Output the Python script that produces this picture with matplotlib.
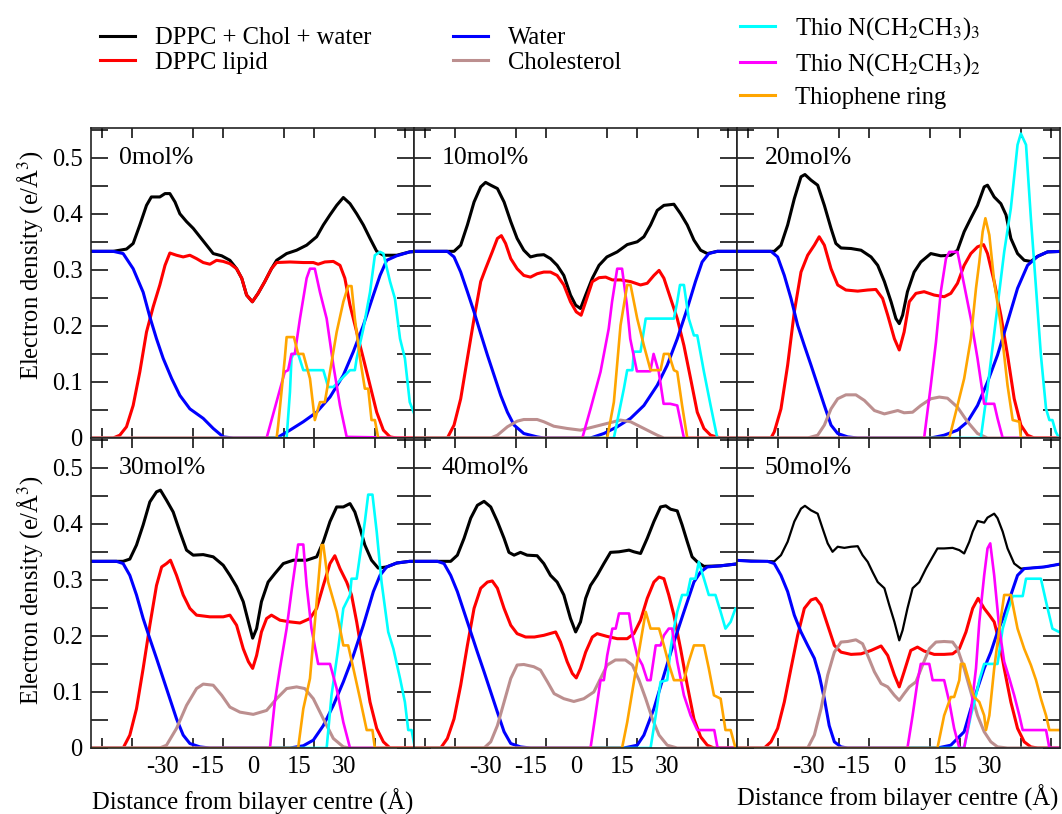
import matplotlib
matplotlib.use('Agg')
import matplotlib.pyplot as plt
from matplotlib.ticker import FixedLocator, FuncFormatter
from matplotlib.lines import Line2D

plt.rcParams['font.family'] = 'Liberation Serif'
plt.rcParams['mathtext.fontset'] = 'stix'
plt.rcParams['axes.unicode_minus'] = False

FS = 17.7

# electron density profiles, (z in Angstrom, density in e/A^3)
# 0 mol%
p0_total = [(-54,0.333),(-46.2,0.333),(-41.8,0.337),(-39.6,0.347),(-37.4,0.38),(-35.2,0.415),(-33.6,0.43),(-30.8,0.43),(-29.1,0.436),(-27.5,0.436),(-25.8,0.421),(-24.2,0.40),(-22.0,0.386),(-19.8,0.374),(-17.6,0.359),(-15.4,0.344),(-13.2,0.329),(-10.4,0.325),(-7.7,0.317),(-5.5,0.302),(-3.8,0.285),(-2.2,0.255),(-0.3,0.243),(1.6,0.258),(3.8,0.279),(6.0,0.302),(7.7,0.317),(11.0,0.329),(14.3,0.335),(17.6,0.344),(20.9,0.359),(23.1,0.38),(25.3,0.398),(27.5,0.415),(29.7,0.429),(31.9,0.418),(34.1,0.40),(36.3,0.38),(38.5,0.356),(40.7,0.333),(42.9,0.326),(47.3,0.326),(51.6,0.332),(54,0.333)]
p0_lipid = [(-54,0),(-46.2,0),(-44.0,0.005),(-41.8,0.02),(-39.6,0.058),(-37.4,0.118),(-35.2,0.189),(-33.0,0.234),(-30.8,0.273),(-29.1,0.308),(-27.5,0.33),(-25.3,0.326),(-23.1,0.323),(-20.9,0.326),(-18.7,0.32),(-16.5,0.313),(-14.3,0.31),(-12.1,0.317),(-9.9,0.315),(-7.7,0.311),(-5.5,0.302),(-3.8,0.285),(-2.2,0.255),(-0.3,0.243),(1.6,0.258),(3.8,0.279),(6.0,0.302),(7.7,0.313),(12.1,0.314),(16.5,0.313),(19.8,0.313),(21.4,0.31),(23.6,0.314),(26.4,0.315),(28.6,0.308),(30.2,0.285),(31.9,0.237),(34.1,0.189),(36.3,0.142),(38.5,0.094),(40.7,0.046),(42.9,0.014),(45.1,0.002),(47.3,0),(54,0)]
p0_water = [(-54,0.333),(-46.2,0.333),(-42.9,0.329),(-39.6,0.302),(-36.3,0.26),(-34.1,0.216),(-31.9,0.177),(-29.7,0.142),(-26.9,0.106),(-24.2,0.076),(-20.9,0.052),(-16.5,0.035),(-13.2,0.017),(-9.9,0.002),(-6.6,0),(7.7,0),(12.1,0.014),(16.5,0.029),(20.9,0.046),(25.3,0.073),(29.7,0.112),(33.0,0.154),(36.3,0.201),(39.6,0.255),(41.8,0.29),(44.0,0.317),(47.3,0.325),(51.6,0.332),(54,0.333)]
p0_chol = [(-54,0),(54,0)]
p0_n3 = [(-54,0),(11.0,0),(12.1,0.082),(12.6,0.142),(13.2,0.15),(14.8,0.15),(16.5,0.121),(23.1,0.121),(24.7,0.091),(26.4,0.091),(31.9,0.121),(33.5,0.121),(34.1,0.142),(36.3,0.195),(38.5,0.26),(40.1,0.326),(41.8,0.332),(42.9,0.329),(45.1,0.279),(46.7,0.249),(48.4,0.177),(50.0,0.142),(51.6,0.064),(53.3,0.04),(54,0.03)]
p0_n2 = [(-54,0),(4.4,0),(10.4,0.118),(11.5,0.121),(12.6,0.15),(13.7,0.15),(15.4,0.213),(17.6,0.285),(18.7,0.302),(20.3,0.302),(22.0,0.26),(24.2,0.213),(26.4,0.13),(28.6,0.058),(30.8,0.002),(54,0)]
p0_ring = [(-54,0),(7.7,0),(8.2,0.022),(9.3,0.082),(10.4,0.142),(11.0,0.18),(13.4,0.18),(14.8,0.15),(16.5,0.15),(18.7,0.106),(20.3,0.032),(22.0,0.064),(23.6,0.064),(25.3,0.118),(27.5,0.189),(29.7,0.243),(31.3,0.271),(32.4,0.271),(33.5,0.213),(35.2,0.142),(36.8,0.088),(37.9,0.088),(39.0,0.032),(40.1,0.032),(41.2,0),(54,0)]

# 10 mol%
p1_total = [(-54,0.333),(-40.3,0.333),(-38.1,0.344),(-35.9,0.38),(-33.7,0.421),(-31.5,0.448),(-29.9,0.456),(-28.2,0.451),(-26.0,0.445),(-23.8,0.421),(-21.6,0.386),(-19.5,0.356),(-17.3,0.335),(-15.1,0.323),(-12.9,0.326),(-10.7,0.327),(-8.5,0.32),(-6.3,0.308),(-4.1,0.29),(-1.9,0.255),(-0.2,0.237),(1.4,0.231),(3.1,0.255),(5.3,0.285),(7.5,0.308),(10.1,0.323),(13.5,0.332),(16.8,0.345),(20.1,0.35),(22.3,0.359),(24.5,0.38),(26.7,0.406),(28.9,0.415),(32.2,0.417),(34.4,0.40),(36.6,0.38),(38.8,0.353),(41.0,0.335),(43.2,0.329),(46.5,0.333),(54,0.333)]
p1_lipid = [(-54,0),(-42.5,0),(-40.3,0.023),(-38.1,0.07),(-35.9,0.142),(-33.7,0.213),(-31.5,0.279),(-29.9,0.302),(-27.7,0.332),(-26.0,0.356),(-24.7,0.361),(-23.3,0.347),(-21.6,0.32),(-19.5,0.302),(-17.3,0.29),(-15.1,0.287),(-12.9,0.293),(-10.7,0.296),(-8.5,0.296),(-6.3,0.29),(-4.1,0.273),(-1.9,0.243),(0.0,0.225),(1.6,0.219),(3.1,0.243),(5.3,0.279),(7.5,0.286),(9.7,0.287),(11.9,0.282),(14.6,0.282),(17.9,0.279),(21.2,0.273),(23.4,0.276),(25.6,0.29),(27.3,0.299),(28.9,0.285),(31.1,0.249),(33.3,0.213),(35.5,0.165),(37.7,0.106),(39.9,0.046),(42.1,0.017),(44.3,0.005),(47.6,0),(54,0)]
p1_water = [(-54,0.333),(-42.5,0.333),(-40.3,0.323),(-38.1,0.296),(-35.9,0.261),(-33.7,0.225),(-31.5,0.186),(-29.3,0.148),(-27.1,0.112),(-24.9,0.076),(-22.7,0.046),(-20.5,0.023),(-17.3,0.008),(-12.9,0.002),(-10.7,0),(4.7,0),(9.1,0.008),(13.5,0.02),(17.9,0.035),(22.3,0.058),(26.7,0.094),(30.0,0.13),(33.3,0.177),(36.6,0.231),(39.3,0.279),(41.5,0.314),(43.7,0.329),(46.5,0.333),(54,0.333)]
p1_chol = [(-54,0),(-28.2,0),(-26.0,0.005),(-22.7,0.02),(-19.5,0.03),(-17.3,0.033),(-12.9,0.033),(-10.7,0.029),(-7.4,0.021),(-3.0,0.017),(1.4,0.014),(5.8,0.02),(10.2,0.026),(14.6,0.032),(17.9,0.029),(22.3,0.017),(26.7,0.005),(28.9,0),(54,0)]
p1_n3 = [(-54,0),(12.4,0),(15.7,0.088),(16.8,0.121),(18.5,0.121),(19.0,0.154),(21.2,0.154),(22.9,0.213),(32.2,0.213),(33.3,0.243),(34.2,0.273),(35.5,0.273),(37.1,0.213),(38.8,0.183),(39.9,0.183),(42.1,0.118),(44.3,0.058),(46.5,0),(54,0)]
p1_n2 = [(-54,0),(2.0,0),(4.7,0.052),(8.0,0.118),(10.7,0.195),(11.8,0.243),(13.5,0.302),(15.1,0.302),(16.7,0.237),(17.8,0.177),(20.0,0.119),(24.4,0.119),(25.5,0.15),(27.2,0.118),(28.8,0.061),(31.0,0.061),(33.3,0.058),(35.5,0),(54,0)]
p1_ring = [(-54,0),(10.2,0),(12.4,0.064),(14.6,0.201),(16.8,0.273),(17.9,0.273),(20.1,0.213),(22.3,0.165),(24.5,0.121),(27.8,0.121),(28.9,0.15),(30.5,0.15),(32.2,0.121),(33.3,0.118),(34.9,0.058),(36.6,0),(54,0)]

# 20 mol%
p2_total = [(-54,0.333),(-41.2,0.333),(-39.0,0.344),(-36.8,0.38),(-34.6,0.427),(-32.4,0.466),(-31.1,0.47),(-29.1,0.46),(-26.9,0.451),(-24.7,0.415),(-22.5,0.374),(-20.9,0.347),(-19.2,0.339),(-15.9,0.338),(-12.6,0.335),(-9.3,0.323),(-7.1,0.308),(-4.9,0.279),(-2.7,0.243),(-1.1,0.213),(0.0,0.204),(1.1,0.219),(2.7,0.261),(4.9,0.296),(7.1,0.314),(10.4,0.329),(13.7,0.325),(17.0,0.326),(19.2,0.335),(21.4,0.368),(23.6,0.392),(25.8,0.415),(28.0,0.448),(29.1,0.451),(31.3,0.43),(33.5,0.418),(35.2,0.398),(36.8,0.356),(39.0,0.329),(41.2,0.317),(43.4,0.315),(45.6,0.324),(48.9,0.332),(54,0.333)]
p2_lipid = [(-54,0),(-42.3,0),(-41.2,0.011),(-39.0,0.052),(-36.8,0.13),(-34.6,0.225),(-32.4,0.296),(-30.2,0.326),(-28.0,0.344),(-26.4,0.359),(-24.7,0.344),(-22.5,0.302),(-20.3,0.273),(-17.6,0.264),(-13.7,0.262),(-10.4,0.264),(-7.7,0.265),(-5.5,0.249),(-3.8,0.219),(-1.6,0.177),(0.0,0.157),(1.6,0.189),(3.3,0.243),(5.5,0.258),(8.2,0.261),(11.5,0.255),(14.8,0.252),(17.0,0.258),(19.2,0.276),(21.4,0.308),(23.6,0.329),(25.8,0.341),(27.8,0.345),(29.1,0.329),(31.3,0.279),(33.5,0.219),(35.7,0.148),(37.9,0.07),(40.1,0.023),(42.3,0.005),(44.5,0),(54,0)]
p2_water = [(-54,0.333),(-42.3,0.333),(-40.1,0.323),(-37.9,0.29),(-35.7,0.249),(-33.5,0.201),(-31.3,0.165),(-29.1,0.13),(-26.9,0.094),(-24.7,0.058),(-22.5,0.023),(-20.3,0.008),(-17.0,0.002),(-13.7,0),(10.4,0),(14.8,0.005),(19.2,0.014),(22.5,0.029),(25.8,0.058),(29.1,0.1),(32.4,0.148),(35.7,0.207),(39.0,0.267),(42.3,0.308),(45.6,0.324),(48.9,0.332),(54,0.333)]
p2_chol = [(-54,0),(-30.2,0),(-26.9,0.005),(-24.7,0.023),(-22.5,0.052),(-20.3,0.07),(-17.6,0.077),(-14.3,0.077),(-11.5,0.067),(-8.2,0.049),(-4.9,0.043),(-2.7,0.046),(-0.5,0.049),(1.6,0.045),(4.4,0.046),(7.1,0.058),(10.4,0.07),(13.2,0.073),(15.9,0.071),(19.2,0.055),(22.5,0.029),(25.8,0.008),(29.1,0),(54,0)]
p2_n3 = [(-54,0),(26.9,0),(29.1,0.088),(31.9,0.213),(34.6,0.332),(36.8,0.41),(39.0,0.523),(40.1,0.543),(41.8,0.523),(43.4,0.392),(45.1,0.267),(46.7,0.148),(48.4,0.052),(49.5,0.032),(50.5,0.032),(51.6,0.011),(52.7,0),(54,0)]
p2_n2 = [(-54,0),(8.2,0),(10.4,0.094),(12.1,0.171),(13.7,0.261),(15.4,0.32),(16.5,0.332),(19.2,0.332),(21.4,0.273),(23.6,0.213),(25.8,0.142),(28.0,0.061),(31.3,0.061),(32.4,0.035),(34.1,0),(54,0)]
p2_ring = [(-54,0),(16.5,0),(19.2,0.058),(21.4,0.106),(23.6,0.177),(25.3,0.267),(26.4,0.314),(27.5,0.368),(28.4,0.392),(29.7,0.362),(31.3,0.279),(33.5,0.201),(35.7,0.094),(37.4,0.032),(39.6,0.029),(40.1,0),(54,0)]

# 30 mol%
p3_total = [(-54,0.333),(-42.9,0.333),(-40.7,0.337),(-38.5,0.362),(-36.3,0.398),(-34.1,0.439),(-31.9,0.457),(-30.6,0.46),(-28.6,0.442),(-26.4,0.421),(-24.2,0.386),(-22.0,0.353),(-19.8,0.344),(-16.5,0.345),(-13.2,0.341),(-9.9,0.326),(-7.7,0.308),(-5.5,0.288),(-3.3,0.261),(-1.6,0.225),(-0.2,0.196),(1.1,0.213),(2.7,0.261),(4.9,0.296),(7.1,0.311),(9.9,0.329),(13.2,0.335),(17.6,0.335),(20.9,0.341),(23.1,0.368),(25.3,0.404),(27.5,0.43),(29.7,0.43),(31.9,0.436),(33.5,0.421),(35.2,0.392),(36.8,0.362),(39.0,0.335),(41.2,0.321),(44.0,0.323),(47.3,0.33),(51.6,0.333),(54,0.333)]
p3_lipid = [(-54,0),(-42.9,0),(-40.7,0.023),(-38.5,0.07),(-36.3,0.142),(-34.1,0.219),(-31.9,0.29),(-30.2,0.323),(-28.6,0.329),(-27.3,0.335),(-25.3,0.308),(-23.1,0.273),(-20.9,0.249),(-18.7,0.237),(-14.3,0.234),(-9.9,0.234),(-7.7,0.237),(-5.5,0.219),(-3.3,0.177),(-1.6,0.154),(-0.2,0.142),(1.1,0.165),(2.7,0.207),(4.4,0.231),(6.0,0.237),(8.8,0.228),(12.1,0.225),(15.4,0.223),(18.7,0.231),(20.9,0.249),(23.1,0.29),(25.3,0.329),(26.9,0.343),(28.6,0.32),(30.8,0.296),(32.4,0.273),(34.1,0.225),(36.3,0.154),(38.5,0.082),(40.7,0.035),(42.9,0.011),(45.1,0),(54,0)]
p3_water = [(-54,0.333),(-45.1,0.333),(-42.9,0.329),(-40.7,0.308),(-38.5,0.273),(-36.3,0.231),(-34.1,0.195),(-31.9,0.16),(-29.7,0.124),(-27.5,0.088),(-25.3,0.052),(-23.1,0.023),(-20.9,0.008),(-17.6,0.002),(-14.3,0),(12.1,0),(16.5,0.004),(19.8,0.014),(23.1,0.04),(26.4,0.076),(29.7,0.118),(33.0,0.165),(36.3,0.219),(39.6,0.279),(41.8,0.308),(44.0,0.323),(47.3,0.33),(51.6,0.333),(54,0.333)]
p3_chol = [(-54,0),(-30.8,0),(-28.6,0.005),(-25.3,0.035),(-22.0,0.076),(-18.7,0.106),(-16.5,0.114),(-13.2,0.112),(-10.4,0.094),(-7.7,0.073),(-4.4,0.064),(0.0,0.06),(4.4,0.067),(7.7,0.088),(11.0,0.106),(14.3,0.109),(17.0,0.106),(19.8,0.088),(23.1,0.052),(26.4,0.017),(29.7,0.002),(31.9,0),(54,0)]
p3_n3 = [(-54,0),(24.2,0),(25.8,0.094),(28.0,0.177),(29.7,0.249),(31.9,0.273),(32.4,0.302),(34.1,0.302),(35.2,0.344),(36.8,0.404),(37.9,0.452),(39.3,0.452),(40.7,0.386),(42.3,0.296),(44.5,0.207),(46.2,0.177),(48.4,0.124),(50.0,0.082),(51.1,0.032),(52.2,0.032),(53.3,0),(54,0)]
p3_n2 = [(-54,0),(5.5,0),(7.1,0.082),(8.8,0.142),(11.0,0.213),(12.6,0.279),(14.3,0.344),(14.8,0.363),(16.5,0.363),(17.6,0.29),(19.2,0.213),(21.4,0.15),(25.3,0.15),(27.5,0.106),(29.7,0.046),(31.9,0),(54,0)]
p3_ring = [(-54,0),(14.8,0),(16.5,0.07),(18.7,0.124),(20.9,0.261),(22.5,0.362),(23.1,0.362),(24.7,0.296),(27.5,0.243),(29.7,0.183),(31.3,0.183),(33.0,0.142),(35.2,0.088),(37.4,0.032),(39.3,0.032),(40.1,0),(54,0)]

# 40 mol%
p4_total = [(-54,0.333),(-41.4,0.333),(-39.2,0.344),(-37.0,0.374),(-34.8,0.41),(-32.6,0.433),(-30.4,0.44),(-28.2,0.43),(-26.0,0.404),(-23.8,0.374),(-22.2,0.349),(-20.5,0.344),(-18.4,0.349),(-16.2,0.344),(-12.9,0.343),(-10.7,0.329),(-8.5,0.308),(-6.3,0.296),(-4.1,0.273),(-1.9,0.231),(-0.2,0.207),(1.4,0.225),(3.1,0.267),(4.7,0.29),(6.9,0.308),(9.1,0.329),(11.3,0.349),(14.1,0.35),(17.4,0.353),(19.0,0.35),(21.2,0.347),(23.4,0.374),(25.6,0.404),(27.8,0.43),(29.5,0.432),(31.1,0.426),(33.3,0.423),(34.9,0.398),(36.6,0.368),(38.2,0.341),(39.9,0.332),(42.1,0.324),(47.6,0.325),(54,0.329)]
p4_lipid = [(-54,0),(-44.7,0),(-42.5,0.017),(-40.3,0.052),(-38.1,0.112),(-35.9,0.183),(-33.7,0.249),(-31.5,0.285),(-29.3,0.296),(-27.7,0.298),(-26.0,0.285),(-23.8,0.249),(-21.6,0.219),(-19.5,0.204),(-16.7,0.198),(-13.8,0.198),(-10.7,0.201),(-6.8,0.207),(-5.2,0.189),(-3.0,0.154),(-1.3,0.133),(0.0,0.125),(1.4,0.142),(3.1,0.171),(5.3,0.198),(6.9,0.204),(10.2,0.199),(13.5,0.195),(16.8,0.195),(19.0,0.204),(21.2,0.228),(23.4,0.267),(25.6,0.296),(27.3,0.305),(28.9,0.302),(30.5,0.273),(32.2,0.237),(34.4,0.177),(36.6,0.112),(38.8,0.052),(41.0,0.02),(43.2,0.005),(45.4,0),(54,0)]
p4_water = [(-54,0.333),(-45.8,0.333),(-43.6,0.329),(-41.4,0.308),(-39.2,0.279),(-37.0,0.243),(-34.8,0.207),(-32.6,0.171),(-30.4,0.136),(-28.2,0.1),(-26.0,0.064),(-23.8,0.029),(-21.6,0.008),(-18.4,0.002),(-15.1,0),(15.7,0),(20.1,0.005),(22.3,0.023),(25.6,0.07),(28.9,0.13),(32.2,0.189),(35.5,0.243),(38.8,0.296),(41.0,0.314),(43.2,0.323),(47.6,0.325),(54,0.329)]
p4_chol = [(-54,0),(-30.4,0),(-28.2,0.011),(-26.0,0.04),(-23.8,0.082),(-21.6,0.124),(-19.5,0.148),(-17.3,0.149),(-14.0,0.145),(-11.8,0.139),(-9.5,0.118),(-7.3,0.097),(-4.1,0.088),(-0.8,0.083),(2.5,0.088),(5.8,0.1),(8.0,0.124),(10.2,0.148),(12.9,0.157),(16.2,0.157),(18.5,0.148),(20.7,0.121),(22.9,0.088),(25.1,0.052),(27.3,0.023),(30.0,0.005),(33.3,0),(54,0)]
p4_n3 = [(-54,0),(24.5,0),(26.2,0.058),(27.8,0.118),(30.0,0.121),(31.1,0.177),(32.2,0.213),(33.3,0.243),(34.9,0.273),(36.6,0.273),(37.7,0.302),(39.3,0.302),(40.4,0.332),(42.1,0.302),(43.7,0.273),(45.9,0.273),(47.6,0.243),(49.2,0.213),(50.9,0.225),(52.5,0.249),(54,0.25)]
p4_n2 = [(-54,0),(4.7,0),(6.3,0.058),(8.0,0.121),(9.1,0.121),(10.2,0.165),(11.9,0.213),(13.0,0.213),(14.1,0.24),(17.4,0.24),(18.5,0.201),(20.1,0.165),(21.8,0.148),(23.4,0.121),(24.5,0.121),(26.2,0.183),(27.8,0.183),(28.9,0.201),(30.5,0.213),(31.6,0.213),(33.3,0.154),(35.5,0.094),(37.7,0.058),(39.9,0.032),(45.5,0.032),(46.6,0),(54,0)]
p4_ring = [(-54,0),(15.1,0),(16.8,0.046),(19.0,0.118),(21.2,0.189),(22.9,0.243),(24.5,0.213),(27.3,0.213),(28.9,0.183),(30.5,0.15),(32.2,0.121),(35.5,0.121),(37.1,0.154),(38.8,0.183),(42.1,0.183),(43.7,0.142),(45.4,0.094),(47.6,0.088),(49.2,0.032),(50.9,0.032),(52.5,0),(54,0)]

# 50 mol%
p5_total = [(-54,0.335),(-41.2,0.333),(-39.0,0.344),(-36.8,0.368),(-34.6,0.404),(-32.4,0.427),(-31.1,0.432),(-29.1,0.424),(-26.9,0.418),(-25.3,0.392),(-23.6,0.365),(-22.0,0.35),(-20.3,0.359),(-18.1,0.357),(-15.9,0.359),(-13.7,0.36),(-12.1,0.344),(-10.4,0.332),(-8.8,0.314),(-7.1,0.296),(-4.9,0.285),(-3.3,0.255),(-1.6,0.225),(0.0,0.192),(1.1,0.21),(2.7,0.249),(4.4,0.285),(6.6,0.296),(8.8,0.32),(11.0,0.341),(12.6,0.356),(14.8,0.356),(17.6,0.357),(19.8,0.353),(21.4,0.347),(23.1,0.368),(24.2,0.386),(25.8,0.405),(28.0,0.402),(29.1,0.411),(31.3,0.418),(32.4,0.41),(34.1,0.386),(35.7,0.356),(37.9,0.329),(40.1,0.32),(43.4,0.321),(47.8,0.323),(54,0.329)]
p5_lipid = [(-54,0),(-44.5,0),(-42.3,0.011),(-40.1,0.035),(-37.9,0.082),(-35.7,0.142),(-33.5,0.201),(-31.3,0.249),(-29.1,0.264),(-27.5,0.267),(-25.8,0.255),(-23.6,0.219),(-21.4,0.183),(-19.2,0.171),(-15.9,0.167),(-12.6,0.168),(-9.3,0.174),(-6.0,0.182),(-3.8,0.165),(-1.6,0.13),(0.0,0.109),(1.6,0.136),(3.8,0.174),(6.0,0.18),(8.2,0.173),(11.5,0.167),(14.8,0.167),(17.6,0.168),(19.8,0.177),(22.0,0.207),(24.2,0.249),(26.0,0.267),(28.0,0.249),(29.7,0.237),(31.3,0.225),(33.0,0.189),(34.6,0.142),(36.8,0.082),(39.0,0.035),(41.2,0.011),(43.4,0.002),(45.6,0),(54,0)]
p5_water = [(-54,0.335),(-48.9,0.333),(-43.4,0.333),(-41.2,0.329),(-39.0,0.308),(-36.8,0.279),(-34.6,0.237),(-32.4,0.207),(-30.2,0.183),(-28.0,0.16),(-26.4,0.13),(-24.7,0.088),(-23.1,0.04),(-21.4,0.011),(-19.2,0.002),(-17.0,0),(12.6,0),(17.0,0.005),(21.4,0.029),(23.6,0.07),(25.8,0.106),(28.0,0.142),(30.2,0.171),(32.4,0.207),(34.6,0.237),(36.8,0.273),(39.0,0.308),(41.2,0.32),(43.4,0.321),(47.8,0.323),(54,0.329)]
p5_chol = [(-54,0),(-30.2,0),(-28.0,0.023),(-25.8,0.07),(-23.6,0.13),(-21.4,0.171),(-19.2,0.189),(-17.0,0.19),(-14.3,0.193),(-12.1,0.186),(-10.4,0.165),(-8.2,0.136),(-6.0,0.115),(-3.8,0.109),(-1.6,0.094),(0.0,0.085),(1.6,0.097),(3.3,0.109),(5.5,0.118),(7.7,0.148),(9.9,0.177),(12.1,0.189),(14.8,0.19),(17.6,0.189),(19.2,0.177),(21.4,0.142),(23.6,0.1),(25.8,0.058),(28.0,0.029),(30.2,0.011),(32.4,0.002),(35.7,0),(54,0)]
p5_n3 = [(-54,0),(21.4,0),(23.6,0.058),(25.3,0.094),(26.4,0.121),(28.0,0.15),(32.4,0.15),(34.1,0.213),(35.7,0.243),(37.4,0.271),(40.7,0.271),(41.8,0.302),(46.7,0.302),(48.4,0.261),(50.5,0.213),(52.7,0.207),(54,0.205)]
p5_n2 = [(-54,0),(2.7,0),(4.4,0.058),(6.0,0.118),(7.1,0.15),(9.9,0.15),(11.0,0.121),(14.8,0.121),(16.5,0.082),(18.1,0.035),(19.8,0),(21.4,0),(22.5,0.032),(23.6,0.064),(25.3,0.142),(26.4,0.225),(28.0,0.308),(29.1,0.356),(30.0,0.365),(31.3,0.308),(33.0,0.213),(34.6,0.154),(36.3,0.124),(37.9,0.094),(39.6,0.058),(40.7,0.032),(48.4,0.032),(49.5,0),(54,0)]
p5_ring = [(-54,0),(12.6,0),(14.8,0.058),(17.0,0.091),(18.1,0.091),(19.8,0.121),(20.3,0.15),(21.4,0.15),(23.1,0.118),(24.7,0.091),(26.4,0.082),(28.0,0.058),(28.6,0.032),(29.7,0.058),(31.3,0.142),(33.0,0.213),(34.6,0.273),(36.8,0.273),(39.0,0.213),(41.2,0.177),(43.4,0.148),(45.1,0.121),(46.7,0.088),(48.4,0.058),(49.5,0.032),(54,0.032)]

panel_names = ['0mol%', '10mol%', '20mol%', '30mol%', '40mol%', '50mol%']
series_labels = ['DPPC + Chol + water', 'DPPC lipid', 'Water', 'Cholesterol',
                 r'Thio N(CH$_2$CH$_3$)$_3$', r'Thio N(CH$_2$CH$_3$)$_2$', 'Thiophene ring']
series_colors = ['black', 'red', 'blue', '#bc8f8f', 'cyan', 'magenta', 'orange']

panels = [
    [p0_total, p0_lipid, p0_water, p0_chol, p0_n3, p0_n2, p0_ring],
    [p1_total, p1_lipid, p1_water, p1_chol, p1_n3, p1_n2, p1_ring],
    [p2_total, p2_lipid, p2_water, p2_chol, p2_n3, p2_n2, p2_ring],
    [p3_total, p3_lipid, p3_water, p3_chol, p3_n3, p3_n2, p3_ring],
    [p4_total, p4_lipid, p4_water, p4_chol, p4_n3, p4_n2, p4_ring],
    [p5_total, p5_lipid, p5_water, p5_chol, p5_n3, p5_n2, p5_ring],
]

fig = plt.figure(figsize=(10.62, 8.14), dpi=100)
gs = fig.add_gridspec(2, 3, left=91/1062, right=1060/1062, top=1-128/814,
                      bottom=1-748/814, wspace=0, hspace=0)

ylab = lambda v, pos: '0' if abs(v) < 1e-9 else ('%.1f' % v if abs(v*10 - round(v*10)) < 1e-6 else '')

for i, curves in enumerate(panels):
    ax = fig.add_subplot(gs[i // 3, i % 3])
    for k, pts in enumerate(curves):
        xs = [p[0] for p in pts]
        ys = [p[1] for p in pts]
        lw = 2.2 if k < 4 else 1.9
        if k == 0 and i == 5:
            lw = 1.6
        ax.plot(xs, ys, color=series_colors[k], lw=lw, solid_joinstyle='round')
    ax.set_xlim(-53.5, 53)
    ax.set_ylim(0, 0.553)
    ax.text(-44.4, 0.5, panel_names[i], fontsize=18.5, va='center')

    ax.xaxis.set_major_locator(FixedLocator([-30, -15, 0, 15, 30]))
    ax.xaxis.set_minor_locator(FixedLocator(list(range(-50, 51, 10))))
    ax.yaxis.set_major_locator(FixedLocator([0.05*j for j in range(12)]))
    ax.yaxis.set_major_formatter(FuncFormatter(ylab))
    ax.tick_params(axis='x', which='major', length=0, pad=6, labelsize=FS)
    ax.tick_params(axis='x', which='minor', direction='in', length=7.5, width=1.1,
                   top=True, bottom=True)
    ax.tick_params(axis='y', which='major', direction='in', length=12, width=1.1,
                   left=True, right=True, pad=6, labelsize=FS)
    if i < 3:
        ax.tick_params(axis='x', labelbottom=False)
    if i % 3 != 0:
        ax.tick_params(axis='y', labelleft=False)
    for s in ax.spines.values():
        s.set_linewidth(1.2)
        s.set_color('#222222')

ylabel = r'Electron density (e/$\mathregular{\AA}^3$)'
fig.text(30/1062, 1-265/814, ylabel, rotation=90, ha='center', va='center', fontsize=FS)
fig.text(30/1062, 1-590/814, ylabel, rotation=90, ha='center', va='center', fontsize=FS)
xlabel = 'Distance from bilayer centre (Å)'
fig.text(253/1062, 1-802/814, xlabel, ha='center', va='center', fontsize=FS)
fig.text(898/1062, 1-798/814, xlabel, ha='center', va='center', fontsize=FS)

handles = [Line2D([], [], color=c, lw=2.2) for c in series_colors]
leg_kw = dict(frameon=False, fontsize=FS, handlelength=1.42, handletextpad=0.8,
              borderpad=0, borderaxespad=0, loc='upper left')
fig.legend(handles[0:2], series_labels[0:2], bbox_to_anchor=(100/1062, 1-27/814),
           labelspacing=0.1, **leg_kw)
fig.legend(handles[2:4], series_labels[2:4], bbox_to_anchor=(453/1062, 1-27/814),
           labelspacing=0.1, **leg_kw)
fig.legend(handles[4:7], series_labels[4:7], bbox_to_anchor=(740/1062, 1-15/814),
           labelspacing=0.36, **leg_kw)

fig.savefig('out.png', dpi=100)
